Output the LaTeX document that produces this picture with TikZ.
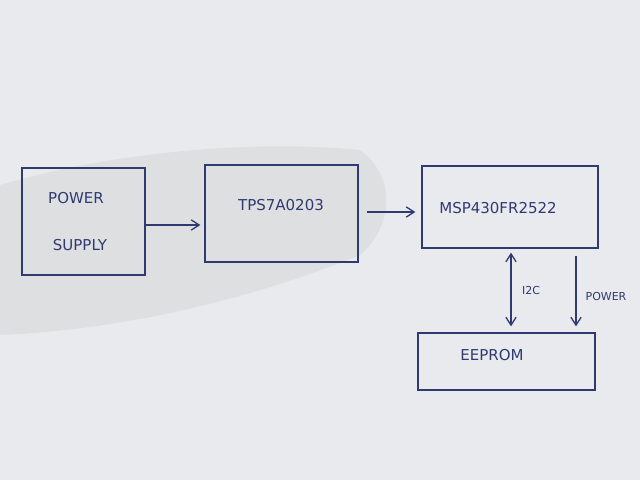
\documentclass[tikz,border=0pt]{standalone}
\usepackage{fontspec}
\setmainfont{DejaVu Sans}
\usetikzlibrary{arrows.meta,calc}
\definecolor{paper}{HTML}{E9EAEE}
\definecolor{paperdark}{HTML}{DEDFE1}
\definecolor{ink}{HTML}{2F3A70}
\newcommand{\hand}{\fontsize{15}{22}\selectfont}
\newcommand{\note}{\fontsize{11}{13}\selectfont}
\tikzset{
  blk/.style={draw=ink,line width=1.3pt,inner sep=0},
  lbl/.style={inner sep=0,font=\hand,text=ink,align=center},
  tag/.style={inner sep=0,font=\note,text=ink},
  wire/.style={ink,line width=1.3pt,-{Straight Barb[length=2.8mm,width=3.6mm]}},
  wire2/.style={ink,line width=1.3pt,{Straight Barb[length=2.8mm,width=3.6mm]}-{Straight Barb[length=2.8mm,width=3.6mm]}}
}

\begin{document}
\begin{tikzpicture}[x=1pt,y=-1pt]
\useasboundingbox (0,0) rectangle (640,480);
\fill[paper] (0,0) rectangle (640,480);
\fill[paperdark] (0,185) .. controls (120,150) and (260,140) .. (360,150) .. controls (400,180) and (390,230) .. (360,255) .. controls (250,300) and (120,330) .. (0,335) -- cycle;
% blocks
\node[blk,minimum width=123pt,minimum height=107pt] (supply) at (83.5,221.5) {};
\node[blk,minimum width=153pt,minimum height=97pt] (tps) at (281.5,213.5) {};
\node[blk,minimum width=176pt,minimum height=82pt] (msp) at (510,207) {};
\node[blk,minimum width=177pt,minimum height=57pt] (eeprom) at (506.5,361.5) {};
% texts
\node[lbl] at (76,198) {POWER};
\node[lbl] at (80,245) {SUPPLY};
\node[lbl] at (281,205) {TPS7A0203};
\node[lbl] at (498,208) {MSP430FR2522};
\node[lbl] at (492,355) {EEPROM};
% links
\draw[wire] (supply.east |- 0,225) -- ([xshift=-4]tps.west |- 0,225);
\draw[wire] ([xshift=8]tps.east |- 0,212) -- ([xshift=-6]msp.west |- 0,212);
\draw[wire2] ([yshift=-4]msp.south -| 511,0) -- ([yshift=6]eeprom.north -| 511,0);
\draw[wire] ([yshift=-7]msp.south -| 576,0) -- ([yshift=6]eeprom.north -| 576,0);
\node[tag] at (531,290) {I2C};
\node[tag] at (606,296) {POWER};
\end{tikzpicture}
\end{document}
